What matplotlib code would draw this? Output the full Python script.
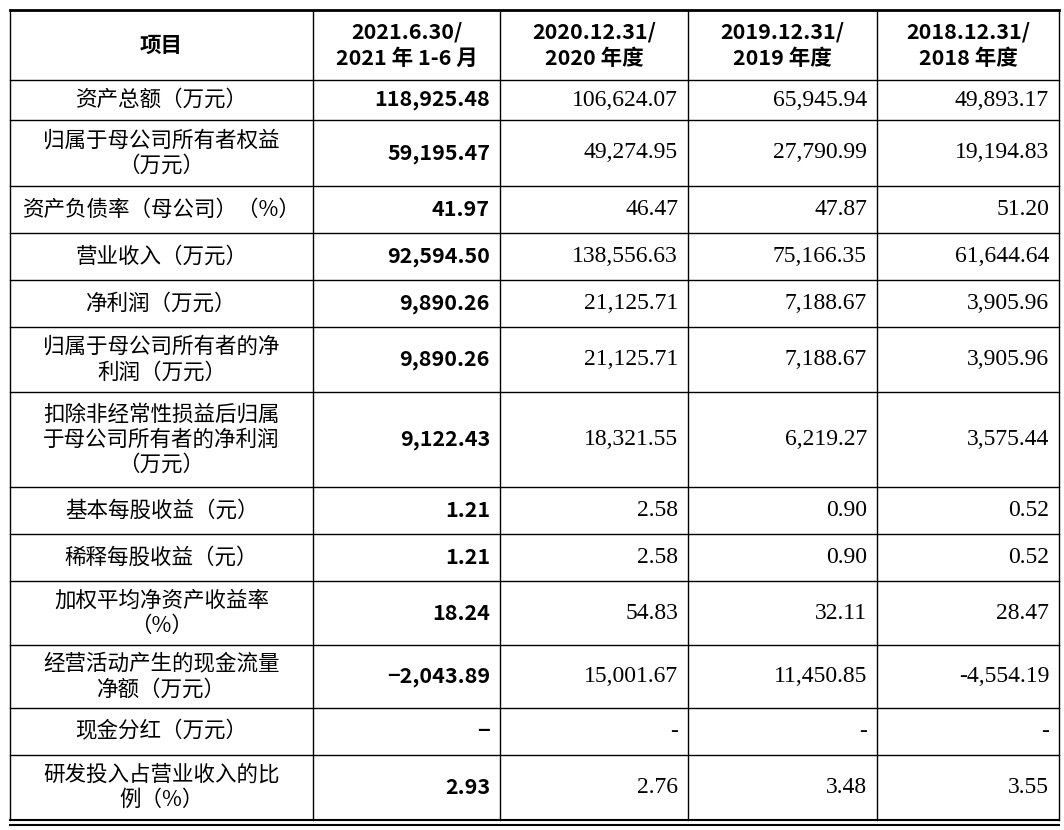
import matplotlib
matplotlib.use("Agg")
import matplotlib.pyplot as plt

headers = ["项目", "2021.6.30/\n2021 年 1-6 月", "2020.12.31/\n2020 年度", "2019.12.31/\n2019 年度", "2018.12.31/\n2018 年度"]
items = ["资产总额（万元）", "归属于母公司所有者权益\n（万元）", "资产负债率（母公司）（%）", "营业收入（万元）",
         "净利润（万元）", "归属于母公司所有者的净\n利润（万元）", "扣除非经常性损益后归属\n于母公司所有者的净利润\n（万元）",
         "基本每股收益（元）", "稀释每股收益（元）", "加权平均净资产收益率\n（%）", "经营活动产生的现金流量\n净额（万元）",
         "现金分红（万元）", "研发投入占营业收入的比\n例（%）"]
col2021 = ["118,925.48", "59,195.47", "41.97", "92,594.50", "9,890.26", "9,890.26", "9,122.43", "1.21", "1.21", "18.24", "−2,043.89", "−", "2.93"]
col2020 = ["106,624.07", "49,274.95", "46.47", "138,556.63", "21,125.71", "21,125.71", "18,321.55", "2.58", "2.58", "54.83", "15,001.67", "-", "2.76"]
col2019 = ["65,945.94", "27,790.99", "47.87", "75,166.35", "7,188.67", "7,188.67", "6,219.27", "0.90", "0.90", "32.11", "11,450.85", "-", "3.48"]
col2018 = ["49,893.17", "19,194.83", "51.20", "61,644.64", "3,905.96", "3,905.96", "3,575.44", "0.52", "0.52", "28.47", "-4,554.19", "-", "3.55"]

xs = [10, 313, 500, 688, 877, 1059]
ys = [10, 80, 120, 186, 233, 280, 327, 392, 487, 534, 581, 645, 708, 755, 820]

fig = plt.figure(figsize=(10.64, 8.30), dpi=100)
ax = fig.add_axes([0, 0, 1, 1])
ax.set_xlim(0, 1064); ax.set_ylim(830, 0); ax.axis("off")

cjk = ["Noto Sans CJK SC", "DejaVu Sans"]
serif = ["Liberation Serif", "DejaVu Serif"]
fs = 15.5

for y in ys[1:-1]:
    ax.plot([xs[0], xs[-1]], [y, y], color="black", lw=1)
ax.plot([xs[0], xs[-1]], [ys[0], ys[0]], color="black", lw=2)
ax.plot([xs[0], xs[-1]], [ys[-1], ys[-1]], color="black", lw=1.5)
ax.plot([xs[0], xs[-1]], [ys[-1] + 5, ys[-1] + 5], color="black", lw=1.5)
for x in xs:
    ax.plot([x, x], [ys[0], ys[-1]], color="black", lw=1)

for i, h in enumerate(headers):
    cx = (xs[i] + xs[i + 1]) / 2
    cy = (ys[0] + ys[1]) / 2
    ax.text(cx, cy, h, ha="center", va="center", fontsize=fs, fontweight="bold",
            family=cjk, linespacing=1.3)

cols = [col2021, col2020, col2019, col2018]
for r, it in enumerate(items):
    cy = (ys[r + 1] + ys[r + 2]) / 2
    ax.text((xs[0] + xs[1]) / 2, cy, it, ha="center", va="center", fontsize=fs,
            family=cjk, linespacing=1.2)
    for c, col in enumerate(cols):
        if c == 0:
            ax.text(xs[c + 2] - 10, cy, col[r], ha="right", va="center", fontsize=fs,
                    fontweight="bold", family=cjk)
        else:
            ax.text(xs[c + 2] - 10, cy, col[r], ha="right", va="center", fontsize=fs + 1.5,
                    family=serif)

fig.savefig("out.png", dpi=100)
